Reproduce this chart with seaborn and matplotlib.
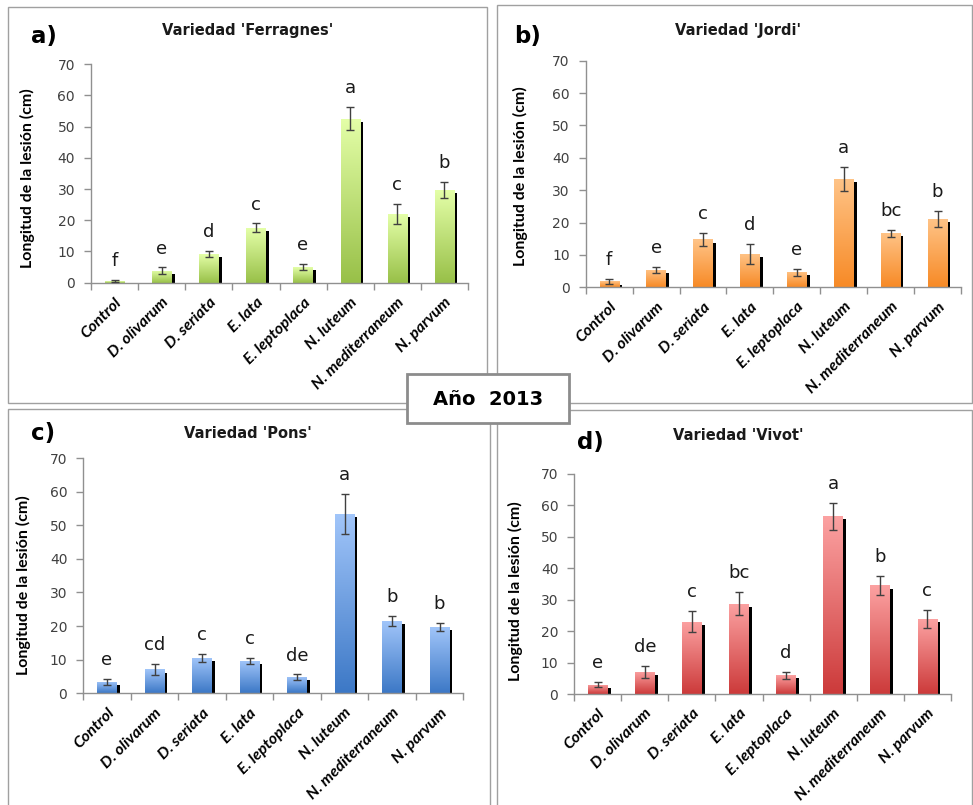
import numpy as np
import pandas as pd
import matplotlib
matplotlib.use("Agg")
import matplotlib.pyplot as plt
import seaborn as sns
from matplotlib.colors import LinearSegmentedColormap
from matplotlib.patches import Rectangle
import matplotlib.patheffects as pe

# ---------------- data ----------------
categories = ["Control", "D. olivarum", "D. seriata", "E. lata", "E. leptoplaca",
              "N. luteum", "N. mediterraneum", "N. parvum"]

ferragnes_mean = [0.6, 3.9, 9.2, 17.6, 5.0, 52.6, 22.0, 29.7]
ferragnes_err = [0.3, 1.0, 1.0, 1.4, 0.9, 3.7, 3.3, 2.6]
ferragnes_letters = ["f", "e", "d", "c", "e", "a", "c", "b"]

jordi_mean = [1.8, 5.4, 14.8, 10.3, 4.7, 33.4, 16.7, 21.1]
jordi_err = [0.7, 0.9, 2.1, 3.0, 1.1, 3.7, 1.1, 2.4]
jordi_letters = ["f", "e", "c", "d", "e", "a", "bc", "b"]

pons_mean = [3.5, 7.1, 10.5, 9.6, 4.8, 53.4, 21.5, 19.7]
pons_err = [0.9, 1.7, 1.2, 0.8, 0.8, 6.0, 1.4, 1.1]
pons_letters = ["e", "cd", "c", "c", "de", "a", "b", "b"]

vivot_mean = [3.0, 7.0, 23.0, 28.7, 6.0, 56.5, 34.5, 23.8]
vivot_err = [0.7, 1.9, 3.3, 3.6, 1.1, 4.3, 2.9, 2.9]
vivot_letters = ["e", "de", "c", "bc", "d", "a", "b", "c"]

yticks = [0, 10, 20, 30, 40, 50, 60, 70]
ylabel = "Longitud de la lesión (cm)"
main_title = "Año  2013"

# ---------------- layout ----------------
W, H = 973, 805
sns.set_style("white")
plt.rcParams["font.family"] = ["DejaVu Sans"]

fig = plt.figure(figsize=(W / 100, H / 100), dpi=100)
fig.patch.set_facecolor("white")


def fx(px):
    return px / W


def fy(py):
    return 1 - py / H


panels = [
    dict(mean=ferragnes_mean, err=ferragnes_err, letters=ferragnes_letters,
         title="Variedad 'Ferragnes'", tag="a)",
         ax=(91, 468, 64.3, 282.7), title_xy=(248, 31), tag_xy=(31, 36),
         ylab_xy=(27, 178), box=(8, 7, 487, 403),
         dark="#98C048", light="#E4FFA8"),
    dict(mean=jordi_mean, err=jordi_err, letters=jordi_letters,
         title="Variedad 'Jordi'", tag="b)",
         ax=(585.7, 961, 60.7, 287.3), title_xy=(738, 30), tag_xy=(514, 36),
         ylab_xy=(520, 176), box=(497, 5, 972, 403),
         dark="#F78A26", light="#FFC488"),
    dict(mean=pons_mean, err=pons_err, letters=pons_letters,
         title="Variedad 'Pons'", tag="c)",
         ax=(83.3, 463.3, 458, 693.3), title_xy=(248, 433), tag_xy=(31, 433),
         ylab_xy=(23, 585), box=(8, 409, 490, 806),
         dark="#3C78C6", light="#A2C6FA"),
    dict(mean=vivot_mean, err=vivot_err, letters=vivot_letters,
         title="Variedad 'Vivot'", tag="d)",
         ax=(574.3, 950.7, 473.7, 694), title_xy=(738, 435), tag_xy=(577, 442),
         ylab_xy=(515, 591), box=(497, 410, 972, 806),
         dark="#CC3A3A", light="#FCA2A2"),
]

grad = np.linspace(0, 1, 256).reshape(-1, 1)

for p in panels:
    # panel frame
    x0, y0, x1, y1 = p["box"]
    fig.add_artist(Rectangle((fx(x0), fy(y1)), (x1 - x0) / W, (y1 - y0) / H,
                             transform=fig.transFigure, fill=False,
                             ec="#A0A0A0", lw=1.0, zorder=0))

    l, r, t, b = p["ax"]
    ax = fig.add_axes([fx(l), fy(b), (r - l) / W, (b - t) / H])
    ax.set_facecolor("none")

    df = pd.DataFrame({"cat": categories, "val": p["mean"]})
    sns.barplot(data=df, x="cat", y="val", ax=ax, width=0.41,
                color=p["dark"], errorbar=None, saturation=1, zorder=2)

    cmap = LinearSegmentedColormap.from_list("g", [p["dark"], p["light"]])
    xs = []
    for patch in ax.patches:
        bx, by = patch.get_x(), patch.get_y()
        bw, bh = patch.get_width(), patch.get_height()
        xs.append(bx + bw / 2)
        patch.set_edgecolor("none")
        patch.set_path_effects([
            pe.SimplePatchShadow(offset=(2.3, -2.3), shadow_rgbFace="black", alpha=1.0),
            pe.Normal()])
        im = ax.imshow(grad, extent=[bx, bx + bw, by, by + bh], origin="lower",
                       aspect="auto", cmap=cmap, zorder=2.5, interpolation="bilinear")
        im.set_clip_path(patch)

    ax.errorbar(xs, p["mean"], yerr=p["err"], fmt="none", ecolor="#404040",
                elinewidth=1.0, capsize=3, capthick=1.0, zorder=5)

    for xi, m, e, lab in zip(xs, p["mean"], p["err"], p["letters"]):
        ax.annotate(lab, (xi, m + e), xytext=(0, 10), textcoords="offset points",
                    ha="center", va="baseline", fontsize=13, color="#1a1a1a",
                    family="DejaVu Sans")

    ax.set_xlim(-0.5, len(categories) - 0.5)
    ax.set_ylim(0, 70)
    ax.set_yticks(yticks)
    ax.set_yticklabels([str(v) for v in yticks], fontsize=10, color="#404040")

    ax.set_xticks(range(len(categories)))
    ax.set_xticklabels(categories, rotation=45, ha="right", va="top",
                       rotation_mode="anchor", fontsize=11.5, fontweight="bold",
                       fontstyle="italic", family="Lato", color="black")
    ax.tick_params(axis="x", which="major", length=0, pad=9)
    ax.set_xticks(np.arange(-0.5, len(categories)), minor=True)
    ax.tick_params(axis="x", which="minor", length=5, color="#909090", width=1,
                   direction="out", bottom=True)
    ax.tick_params(axis="y", length=5, color="#909090", width=1, direction="out",
                   left=True, pad=6.5)

    for s in ["top", "right"]:
        ax.spines[s].set_visible(False)
    for s in ["left", "bottom"]:
        ax.spines[s].set_color("#909090")
        ax.spines[s].set_linewidth(1.0)

    ax.set_xlabel("")
    ax.set_ylabel(ylabel, fontsize=11.5, fontweight="bold", family="Lato",
                  color="black")
    lx, ly = p["ylab_xy"]
    ax.yaxis.set_label_coords(fx(lx), fy(ly), transform=fig.transFigure)
    ax.yaxis.label.set_va("center")

    tx, ty = p["title_xy"]
    fig.text(fx(tx), fy(ty), p["title"], ha="center", va="center",
             fontsize=10.5, fontweight="bold", color="#1a1a1a")
    gx, gy = p["tag_xy"]
    fig.text(fx(gx), fy(gy), p["tag"], ha="left", va="center",
             fontsize=16.5, fontweight="bold", color="black")

# central year box
fig.add_artist(Rectangle((fx(407), fy(423)), (569 - 407) / W, (423 - 374) / H,
                         transform=fig.transFigure, fc="white", ec="#8C8C8C",
                         lw=2, zorder=10))
fig.text(fx(488), fy(399), main_title, ha="center", va="center", fontsize=14,
         fontweight="bold", color="black", zorder=11)

fig.savefig("out.png", dpi=100, facecolor="white")
